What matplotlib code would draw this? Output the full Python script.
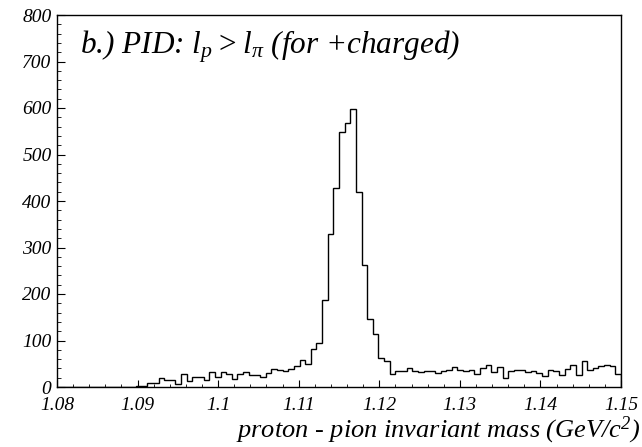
import numpy as np
import matplotlib
matplotlib.use('Agg')
import matplotlib.pyplot as plt
from matplotlib.ticker import MultipleLocator, FormatStrFormatter

plt.rcParams.update({
    'font.family': 'Liberation Serif',
    'font.style': 'italic',
    'mathtext.fontset': 'custom',
    'mathtext.rm': 'Liberation Serif:italic',
    'mathtext.it': 'Liberation Serif:italic',
    'mathtext.sf': 'Liberation Serif',
})

# ---- data: 100 bins from 1.08 to 1.15 GeV/c^2 ----
x_lo, x_hi = 1.08, 1.15
counts = [
    0, 0, 0, 0, 0, 0, 0, 0, 0, 0,
    0, 0, 1, 1, 2, 3, 8, 8, 20, 14,
    16, 6, 29, 12, 21, 21, 14, 32, 22, 32,
    28, 18, 29, 32, 25, 26, 22, 31, 39, 37,
    34, 38, 45, 57, 49, 81, 94, 187, 328, 427,
    549, 568, 597, 419, 262, 146, 114, 62, 56, 29,
    35, 35, 40, 34, 32, 35, 35, 31, 34, 37,
    44, 36, 34, 36, 28, 41, 47, 32, 42, 19,
    34, 36, 37, 32, 34, 31, 24, 37, 35, 25,
    38, 48, 26, 56, 36, 40, 45, 47, 45, 28,
]
edges = np.linspace(x_lo, x_hi, len(counts) + 1)

title = r'b.) PID: $l_p > l_{\mathsf{\pi}}$ (for +charged)'
xlabel = r'proton - pion invariant mass (GeV/c$^{2}$)'

# ---- plot ----
fig = plt.figure(figsize=(6.42, 4.47), dpi=100)
ax = fig.add_axes([57 / 642, 60 / 447, 564 / 642, 372 / 447])

ax.stairs(counts, edges, color='black', lw=1.0, baseline=0)

ax.set_xlim(x_lo, x_hi)
ax.set_ylim(0, 800)
ax.xaxis.set_major_locator(MultipleLocator(0.01))
ax.xaxis.set_minor_locator(MultipleLocator(0.002))
ax.yaxis.set_major_locator(MultipleLocator(100))
ax.yaxis.set_minor_locator(MultipleLocator(20))
ax.xaxis.set_major_formatter(FormatStrFormatter('%g'))

ax.tick_params(which='both', direction='in', top=False, right=False, labelsize=14)
ax.tick_params(axis='y', which='major', length=6, pad=4)
ax.tick_params(axis='y', which='minor', length=3)
ax.tick_params(axis='x', which='major', length=5, pad=7)
ax.tick_params(axis='x', which='minor', length=2.5)
for sp in ax.spines.values():
    sp.set_linewidth(1.0)
# lift the zero label a little so it clears the first x label
ax.get_yticklabels()[0].set_va('bottom')

ax.text(0.04, 0.915, title, transform=ax.transAxes, fontsize=22.5,
        ha='left', va='center')
fig.text(0.998, 0.022, xlabel, fontsize=19, ha='right', va='baseline')

fig.savefig('out.png', dpi=100)
